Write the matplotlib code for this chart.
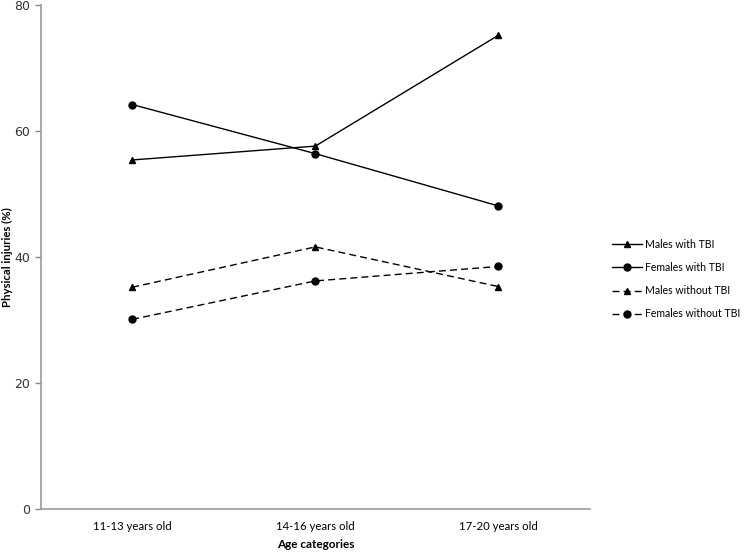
import matplotlib
matplotlib.use("Agg")
import matplotlib.pyplot as plt

categories = ["11-13 years old", "14-16 years old", "17-20 years old"]
males_tbi = [55.4, 57.6, 75.2]
females_tbi = [64.2, 56.4, 48.1]
males_no_tbi = [35.2, 41.6, 35.3]
females_no_tbi = [30.1, 36.2, 38.5]
y_ticks = [0, 20, 40, 60, 80]

fig = plt.figure(figsize=(7.45, 5.53), dpi=100)
ax = fig.add_axes([0.0546, 0.0796, 0.7374, 0.9114])

x = [0.5, 1.5, 2.5]
lw = 1.0
ms = 5
dash = (0, (5, 3))
ax.plot(x, males_tbi, color="black", lw=lw, marker="^", ms=ms, label="Males with TBI")
ax.plot(x, females_tbi, color="black", lw=lw, marker="o", ms=ms, label="Females with TBI")
ax.plot(x, males_no_tbi, color="black", lw=lw, marker="^", ms=ms, linestyle=dash, label="Males without TBI")
ax.plot(x, females_no_tbi, color="black", lw=lw, marker="o", ms=ms, linestyle=dash, label="Females without TBI")

ax.set_xlim(0, 3)
ax.set_ylim(0, 80)
ax.set_yticks(y_ticks)
ax.set_yticklabels([str(t) for t in y_ticks], fontsize=9, color="#333333", family="DejaVu Sans")
ax.set_xticks(x)
ax.set_xticklabels(categories, fontsize=8.2, family="Lato")
ax.tick_params(axis="x", length=0, pad=9)
ax.tick_params(axis="y", length=4, color="#888888", width=1)

for s in ["top", "right"]:
    ax.spines[s].set_visible(False)
for s in ["left", "bottom"]:
    ax.spines[s].set_color("#999999")
    ax.spines[s].set_linewidth(1.2)

ax.set_xlabel("Age categories", fontsize=8.5, fontweight="bold", family="Lato", labelpad=5)
ax.set_ylabel("Physical injuries (%)", fontsize=8.2, fontweight="bold", family="Lato")
ax.yaxis.set_label_coords(-0.05, 0.5)

leg = fig.legend(loc="upper left", bbox_to_anchor=(612 / 745, 1 - 239 / 553), frameon=False,
                 prop={"family": "Lato", "size": 7.6}, borderpad=0, borderaxespad=0,
                 handlelength=2.8, handletextpad=0.35, labelspacing=1.15)

fig.savefig("out.png", dpi=100)
